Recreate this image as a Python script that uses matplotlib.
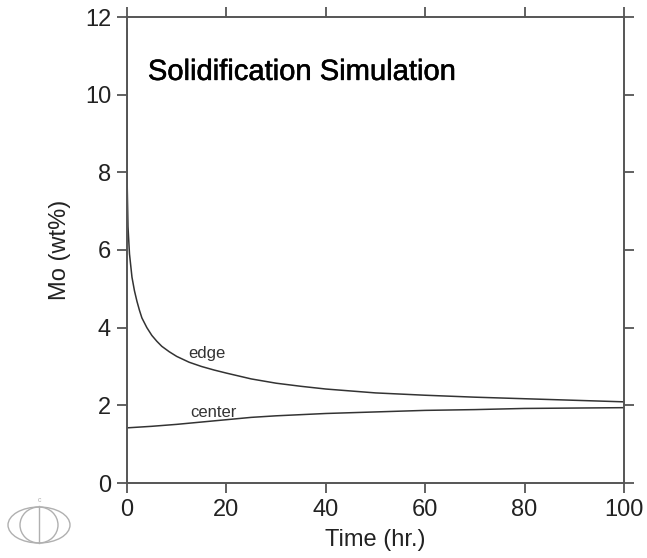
import numpy as np
import matplotlib
matplotlib.use("Agg")
import matplotlib.pyplot as plt
import matplotlib.patheffects as pe
from matplotlib.patches import Ellipse
from matplotlib.lines import Line2D

plt.rcParams['font.family'] = ['Liberation Sans', 'DejaVu Sans']

# values
edge_time = [0, 0, 0.05, 0.2, 0.5, 1, 1.5, 2, 2.5, 3, 4, 5, 6, 7, 8.5, 10, 12.5, 15, 17.5,
             20, 25, 30, 35, 40, 50, 60, 70, 80, 90, 100]
edge_mo = [11.7, 9.0, 7.6, 6.6, 5.9, 5.3, 4.95, 4.68, 4.45, 4.25, 4.0, 3.8, 3.65, 3.52, 3.38,
           3.26, 3.11, 3.0, 2.91, 2.83, 2.68, 2.57, 2.49, 2.42, 2.32, 2.26, 2.21, 2.17, 2.13, 2.09]

center_time = [0, 5, 10, 15, 20, 25, 30, 35, 40, 45, 50, 60, 70, 80, 90, 100]
center_mo = [1.42, 1.46, 1.51, 1.57, 1.63, 1.69, 1.73, 1.76, 1.79, 1.81, 1.83, 1.87, 1.89,
             1.92, 1.93, 1.94]

x_ticks = [0, 20, 40, 60, 80, 100]
y_ticks = [0, 2, 4, 6, 8, 10, 12]

fig = plt.figure(figsize=(6.47, 5.58), dpi=100)
ax = fig.add_axes([127/647, 1 - 483/558, 497/647, 466/558])

line_col = '#333333'
ax.plot(edge_time, edge_mo, color=line_col, lw=1.1)
ax.plot(center_time, center_mo, color=line_col, lw=1.1)

ax.text(16.0, 3.21, 'edge', fontsize=12, color='#333333', ha='center', va='baseline')
ax.text(17.4, 1.69, 'center', fontsize=12, color='#333333', ha='center', va='baseline')
ax.text(4.2, 10.38, 'Solidification Simulation', fontsize=21, color='black',
        ha='left', va='baseline',
        path_effects=[pe.withStroke(linewidth=0.4, foreground='black')])

ax.set_xlim(0, 100)
ax.set_ylim(0, 12)
ax.set_xticks(x_ticks)
ax.set_yticks(y_ticks)
ax.tick_params(direction='out', length=7, width=1.3, color='#555555',
               labelsize=17, labelcolor='#222222', top=True, right=True, pad=4.5)
for s in ax.spines.values():
    s.set_color('#555555')
    s.set_linewidth(1.4)

ax.set_xlabel('Time (hr.)', fontsize=17, color='#222222', labelpad=6)
ax.set_ylabel('Mo (wt%)', fontsize=17, color='#222222', labelpad=10)

# small logo at lower left
logo_col = '#b0b0b0'
fig.patches.append(Ellipse((39/647, 1 - 525/558), 62/647, 36/558, transform=fig.transFigure,
                           fill=False, ec=logo_col, lw=1))
fig.patches.append(Ellipse((39/647, 1 - 525/558), 38/647, 36/558, transform=fig.transFigure,
                           fill=False, ec=logo_col, lw=1))
fig.lines.append(Line2D([39/647, 39/647], [1 - 506/558, 1 - 543/558], transform=fig.transFigure,
                        color=logo_col, lw=1))
fig.text(39/647, 1 - 501/558, 'c', fontsize=5, color=logo_col, ha='center', va='center')

fig.savefig('out.png', dpi=100)
